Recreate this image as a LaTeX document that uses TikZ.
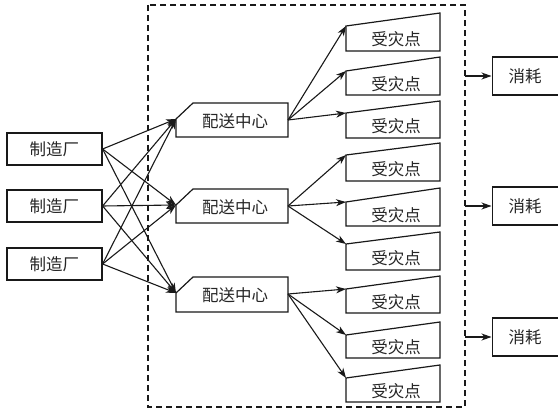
\documentclass[tikz,border=0pt]{standalone}
\usepackage{fontspec}
\newfontfamily\cjk{Noto Sans CJK SC}
\usetikzlibrary{arrows.meta}
\tikzset{
  outline/.style={draw=black!90, line width=1.2pt, fill=white},
  lbl/.style={font=\cjk\fontsize{16.5}{16.5}\selectfont, inner sep=0pt, text=black!85},
  conn/.style={draw=black!90, line width=1.1pt, -{Stealth[length=10pt,width=7pt,inset=3pt]}},
  frame/.style={draw=black!90, line width=1.2pt, dash pattern=on 6pt off 4pt}
}
\begin{document}
\begin{tikzpicture}[x=1pt,y=-1pt]
\useasboundingbox (0,0) rectangle (558,414);
% dashed frame
\draw[frame] (148,5) rectangle (465,407);
% factories
\foreach \n/\yy in {1/149,2/206,3/264}{
  \node[outline, lbl, minimum width=95pt, minimum height=32pt] (f\n) at (54.5,\yy) {制造厂};
}
% distribution centres
\foreach \n/\ta/\bb/\cc/\mm/\oo in {1/103/137/119/121/120,2/189/223/205/207/206,3/277/312/293/295/294}{
  \draw[outline] (193,\ta) -- (288,\ta) -- (288,\bb) -- (176,\bb) -- (176,\cc) -- cycle;
  \coordinate (cin\n) at (176,\cc);
  \coordinate (cout\n) at (288,\oo);
  \node[lbl] (c\n) at (235,\mm) {配送中心};
}
% disaster points
\foreach \n/\la/\ra/\bb/\mm in {1/26/13/51/39,2/71/57/95/84,3/113/101/138/126,4/155/143/181/169,5/202/188/226/215,6/244/232/270/258,7/289/276/313/302,8/335/322/358/347,9/378/365/402/391}{
  \draw[outline] (346,\la) -- (440,\ra) -- (440,\bb) -- (346,\bb) -- cycle;
  \coordinate (din\n) at (346,\la);
  \node[lbl] (d\n) at (396,\mm) {受灾点};
}
% consumption
\foreach \n/\yy in {1/76,2/206,3/337}{
  \node[outline, lbl, minimum width=66pt, minimum height=38pt, anchor=west] (x\n) at (491.5,\yy) {消耗};
  \coordinate (e\n) at (465,\yy);
  \draw[conn] (e\n) -- (x\n.west);
}
% factory -> centre
\foreach \i in {1,2,3}{
  \foreach \j in {1,2,3}{
    \draw[conn] (f\i.east) -- (cin\j);
  }
}
% centre -> disaster
\draw[conn] (cout1) -- (din1);
\draw[conn] (cout1) -- (din2);
\draw[conn] (cout1) -- (din3);
\draw[conn] (cout2) -- (din4);
\draw[conn] (cout2) -- (din5);
\draw[conn] (cout2) -- (din6);
\draw[conn] (cout3) -- (din7);
\draw[conn] (cout3) -- (din8);
\draw[conn] (cout3) -- (din9);
\end{tikzpicture}
\end{document}
